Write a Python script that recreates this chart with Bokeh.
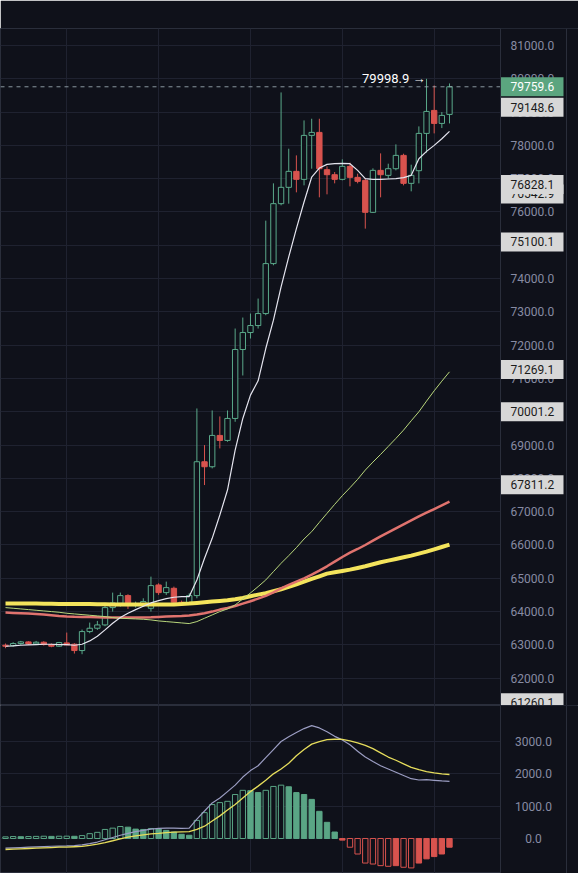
from bokeh.plotting import figure
from bokeh.models import (Range1d, SingleIntervalTicker, FixedTicker, Label, Span)
from bokeh.core.properties import value
from bokeh.layouts import column
from bokeh.embed import file_html
from bokeh.resources import INLINE

# ---------------- data ----------------
opens = [62990, 62980, 63040, 63090, 63030, 63080, 63010, 62960, 63060, 63020,
         62830, 63400, 63500, 63600, 64120, 64250, 64480, 64180, 64230, 64100,
         64800, 64570, 64700, 64280, 64270, 64480, 68500, 68350, 69290, 69140,
         69800, 71870, 72380, 72590, 72950, 74450, 76250, 76740, 77220, 76980,
         78300, 78390, 77270, 77120, 76980, 77370, 77040, 76950, 75990, 77250,
         77100, 77300, 77700, 76860, 77240, 78360, 79050, 78660, 78930]
closes = [62960, 63040, 63090, 63030, 63080, 63010, 62960, 63070, 63000, 62830,
          63400, 63500, 63600, 64120, 64260, 64480, 64180, 64230, 64300, 64780,
          64570, 64720, 64280, 64240, 64480, 68500, 68350, 69290, 69140, 69800,
          71870, 72380, 72590, 72950, 74450, 76250, 76740, 77220, 76980, 78300,
          78390, 77300, 77120, 76980, 77370, 77040, 76920, 75990, 77250, 77120,
          77300, 77700, 76860, 77100, 78360, 79020, 78660, 78900, 79759.6]
highs = [63040, 63080, 63120, 63110, 63120, 63110, 63040, 63090, 63370, 63050,
         63460, 63670, 63720, 64200, 64570, 64570, 64520, 64300, 64400, 65050,
         64850, 64900, 64750, 64330, 64550, 70100, 69000, 70040, 69860, 70040,
         72500, 72830, 72950, 73400, 75740, 76860, 79590, 77900, 77700, 78750,
         78800, 78800, 77370, 77200, 77580, 77480, 77150, 77000, 77310, 77760,
         77450, 78030, 77750, 77420, 78570, 79998.9, 79800, 79000, 79860]
lows = [62900, 62950, 63000, 63000, 63000, 62980, 62930, 62940, 62990, 62740,
        62720, 63350, 63450, 63560, 64000, 64150, 64080, 64120, 64150, 64000,
        64500, 64500, 64180, 64200, 64200, 64400, 67800, 68300, 68900, 69100,
        69700, 71090, 72200, 72500, 72900, 74400, 76200, 76250, 76590, 76800,
        77300, 76440, 76530, 76860, 76950, 76770, 76860, 75500, 75970, 76440,
        77000, 77250, 76800, 76620, 76860, 77780, 78360, 78520, 78660]

ma_white = [62960, 62970, 62990, 63000, 63010, 63020, 63020, 63010, 63010, 62990,
            63020, 63120, 63260, 63450, 63650, 63820, 63950, 64060, 64160, 64260,
            64330, 64390, 64430, 64450, 64450, 64950, 65600, 66200, 66900, 67650,
            68850, 69800, 70500, 70930, 71900, 72750, 73750, 74650, 75500, 76300,
            77050, 77320, 77430, 77450, 77460, 77450, 77250, 77000, 76980, 76980,
            76990, 77000, 77030, 77100, 77600, 77820, 78000, 78200, 78420]
ma_green = [64120, 64100, 64080, 64060, 64040, 64020, 64000, 63980, 63950, 63930,
            63910, 63890, 63870, 63850, 63820, 63800, 63790, 63780, 63770, 63750,
            63720, 63700, 63680, 63660, 63640, 63700, 63800, 63900, 64000, 64080,
            64200, 64380, 64560, 64750, 64950, 65200, 65450, 65680, 65920, 66180,
            66400, 66680, 66950, 67220, 67480, 67720, 67970, 68250, 68490, 68720,
            68960, 69200, 69450, 69730, 70000, 70320, 70630, 70920, 71200]
ma_salmon = [63970, 63960, 63950, 63940, 63930, 63910, 63890, 63870, 63855, 63845,
             63840, 63835, 63830, 63825, 63820, 63820, 63820, 63820, 63825, 63830,
             63840, 63850, 63860, 63870, 63885, 63910, 63950, 64000, 64060, 64110,
             64170, 64240, 64310, 64390, 64470, 64580, 64700, 64800, 64900, 65000,
             65110, 65230, 65360, 65500, 65640, 65770, 65880, 66000, 66130, 66260,
             66380, 66500, 66620, 66740, 66860, 66970, 67080, 67190, 67300]
ma_yellow = [64240, 64240, 64240, 64240, 64240, 64235, 64235, 64230, 64230, 64230,
             64225, 64225, 64220, 64220, 64215, 64215, 64215, 64215, 64215, 64215,
             64215, 64215, 64215, 64225, 64240, 64260, 64280, 64300, 64320, 64340,
             64370, 64410, 64460, 64510, 64550, 64610, 64670, 64740, 64820, 64900,
             64980, 65060, 65140, 65180, 65220, 65260, 65310, 65360, 65420, 65480,
             65530, 65580, 65630, 65680, 65740, 65800, 65870, 65940, 66010]

macd_hist = [50, 60, 55, 60, 65, 70, 65, 70, 72, 68,
             90, 150, 190, 280, 320, 370, 350, 290, 280, 310,
             290, 250, 200, 130, 100, 560, 800, 1050, 1110, 1150,
             1360, 1490, 1480, 1420, 1490, 1610, 1650, 1600, 1420, 1360,
             1210, 840, 500, 200, -50, -270, -480, -760, -790, -840,
             -860, -840, -890, -910, -760, -630, -560, -480, -270]
macd_dif = [-300, -290, -280, -270, -260, -250, -240, -235, -230, -220,
            -200, -160, -110, -40, 30, 100, 160, 210, 250, 290,
            310, 320, 320, 315, 320, 600, 850, 1100, 1250, 1450,
            1650, 1900, 2100, 2250, 2500, 2750, 3000, 3150, 3280, 3400,
            3490, 3420, 3300, 3160, 3050, 2900, 2700, 2520, 2380, 2250,
            2150, 2050, 1950, 1850, 1810, 1820, 1800, 1780, 1765]
macd_dea = [-340, -330, -320, -310, -300, -290, -280, -270, -265, -255,
            -245, -215, -175, -125, -70, -10, 40, 80, 115, 145,
            160, 180, 195, 205, 215, 280, 380, 540, 700, 880,
            1050, 1250, 1450, 1620, 1800, 2000, 2150, 2330, 2560, 2750,
            2920, 3000, 3060, 3070, 3065, 3020, 2960, 2880, 2780, 2650,
            2520, 2420, 2310, 2200, 2130, 2070, 2030, 2000, 1980]

price_ticks = list(range(62000, 82000, 1000))
price_tags = [79148.6, 76542.9, 76828.1, 75100.1, 71269.1, 70001.2, 67811.2, 61260.1]
last_price = 79759.6
peak_price = 79998.9
peak_index = 55
macd_ticks = [0, 1000, 2000, 3000]
time_grid = [8, 20, 32, 44, 56]

# ---------------- layout / style ----------------
W = 578
BG = "#0f111a"
GRID = "#1f2230"
FRAME = "#2a2e3b"
TXT = "#878ba3"
UP = "#5aa98a"
DOWN = "#d8534e"
FONT = "Roboto"

STEP = 7.655           # pixels per candle
X0 = -5 / STEP         # left edge of the canvas, in candle units
X1 = (500 - 5) / STEP  # right edge of the price area
XR = (W - 5) / STEP    # right edge of the canvas
XS = (566 - 5) / STEP  # outer border of the scale column
TAG_W = 63             # px
TAG_H = 19             # px

idx = list(range(len(opens)))


def base(fig):
    fig.background_fill_color = BG
    fig.border_fill_color = BG
    fig.outline_line_color = FRAME
    fig.grid.grid_line_color = GRID
    fig.xgrid.ticker = FixedTicker(ticks=time_grid)
    # scale column on the right
    fig.quad(left=[X1], right=[XR], bottom=[fig.y_range.start],
             top=[fig.y_range.end], fill_color=BG, line_color=None)
    fig.add_layout(Span(location=X1, dimension="height", line_color=FRAME, line_width=1))
    fig.add_layout(Span(location=XS, dimension="height", line_color=FRAME, line_width=1))


def tag(fig, v, bg, fg):
    fig.rect(x=[X1 + TAG_W / 2 / STEP], y=[v], width=TAG_W, height=TAG_H,
             width_units="screen", height_units="screen",
             fill_color=bg, line_color=None)
    fig.text(x=[X1], y=[v], text=[f"{v:.1f}"], x_offset=10,
             text_align="left", text_baseline="middle", text_color=fg,
             text_font=value(FONT), text_font_size="12px")


# ---------------- price panel ----------------
p = figure(width=W, height=705, x_range=Range1d(X0, XR),
           y_range=Range1d(61180, 81510), output_backend="svg",
           toolbar_location=None, x_axis_location=None, y_axis_location=None,
           min_border_left=0, min_border_right=0, min_border_top=28,
           min_border_bottom=0)
p.ygrid.ticker = SingleIntervalTicker(interval=1000, num_minor_ticks=0)
base(p)

up_i = [i for i in idx if closes[i] >= opens[i]]
dn_i = [i for i in idx if closes[i] < opens[i]]

for sel, col in ((up_i, UP), (dn_i, DOWN)):
    p.segment(x0=sel, y0=[lows[i] for i in sel], x1=sel, y1=[highs[i] for i in sel],
              line_color=col, line_width=1)
p.vbar(x=up_i, width=0.7, top=[max(opens[i], closes[i]) for i in up_i],
       bottom=[min(opens[i], closes[i]) for i in up_i],
       fill_color=BG, line_color=UP, line_width=1)
p.vbar(x=dn_i, width=0.7, top=[max(opens[i], closes[i]) for i in dn_i],
       bottom=[min(opens[i], closes[i]) for i in dn_i],
       fill_color=DOWN, line_color=DOWN, line_width=1)

p.line(idx, ma_yellow, line_color="#f4e45c", line_width=4)
p.line(idx, ma_salmon, line_color="#e0736e", line_width=2.5)
p.line(idx, ma_green, line_color="#b9d77c", line_width=1)
p.line(idx, ma_white, line_color="#e4e4ee", line_width=1.2)

# current price dashed line
p.segment(x0=[X0], x1=[X1], y0=[last_price], y1=[last_price],
          line_color="#9fb0b6", line_dash="4 4", line_width=1, line_alpha=0.85)

# scale labels
p.text(x=[X1] * len(price_ticks), y=price_ticks,
       text=[f"{t:.1f}" for t in price_ticks], x_offset=10,
       text_align="left", text_baseline="middle", text_color=TXT,
       text_font=value(FONT), text_font_size="12px")

p.add_layout(Label(x=peak_index, y=peak_price, text=f"{peak_price:.1f} \u2192",
                   text_align="right", text_baseline="middle", x_offset=-1,
                   text_color="#ffffff", text_font=FONT, text_font_size="13px"))

for v in price_tags:
    tag(p, v, "#d7d7d7", "#1b1b1b")
tag(p, last_price, "#5ba57f", "#ffffff")

# ---------------- MACD panel ----------------
m = figure(width=W, height=168, x_range=p.x_range,
           y_range=Range1d(-1083, 4114), output_backend="svg",
           toolbar_location=None, x_axis_location=None, y_axis_location=None,
           min_border_left=0, min_border_right=0, min_border_top=0,
           min_border_bottom=0)
m.ygrid.ticker = FixedTicker(ticks=macd_ticks)
base(m)

fills, lines = [], []
for i, h in enumerate(macd_hist):
    col = "#5aa585" if h >= 0 else DOWN
    hollow = i == 0 or abs(h) >= abs(macd_hist[i - 1])
    lines.append(col)
    fills.append(BG if hollow else col)
m.vbar(x=idx, width=0.7, top=macd_hist, bottom=0, fill_color=fills,
       line_color=lines, line_width=1)
m.line(idx, macd_dif, line_color="#9b9dc2", line_width=1.2)
m.line(idx, macd_dea, line_color="#e6dd5c", line_width=1.3)

m.text(x=[(X1 + XS) / 2] * len(macd_ticks), y=macd_ticks,
       text=[f"{t:.1f}" for t in macd_ticks],
       text_align="center", text_baseline="middle", text_color=TXT,
       text_font=value(FONT), text_font_size="12px")

layout = column(p, m, spacing=0)
open("out.html", "w").write(file_html(layout, INLINE))
